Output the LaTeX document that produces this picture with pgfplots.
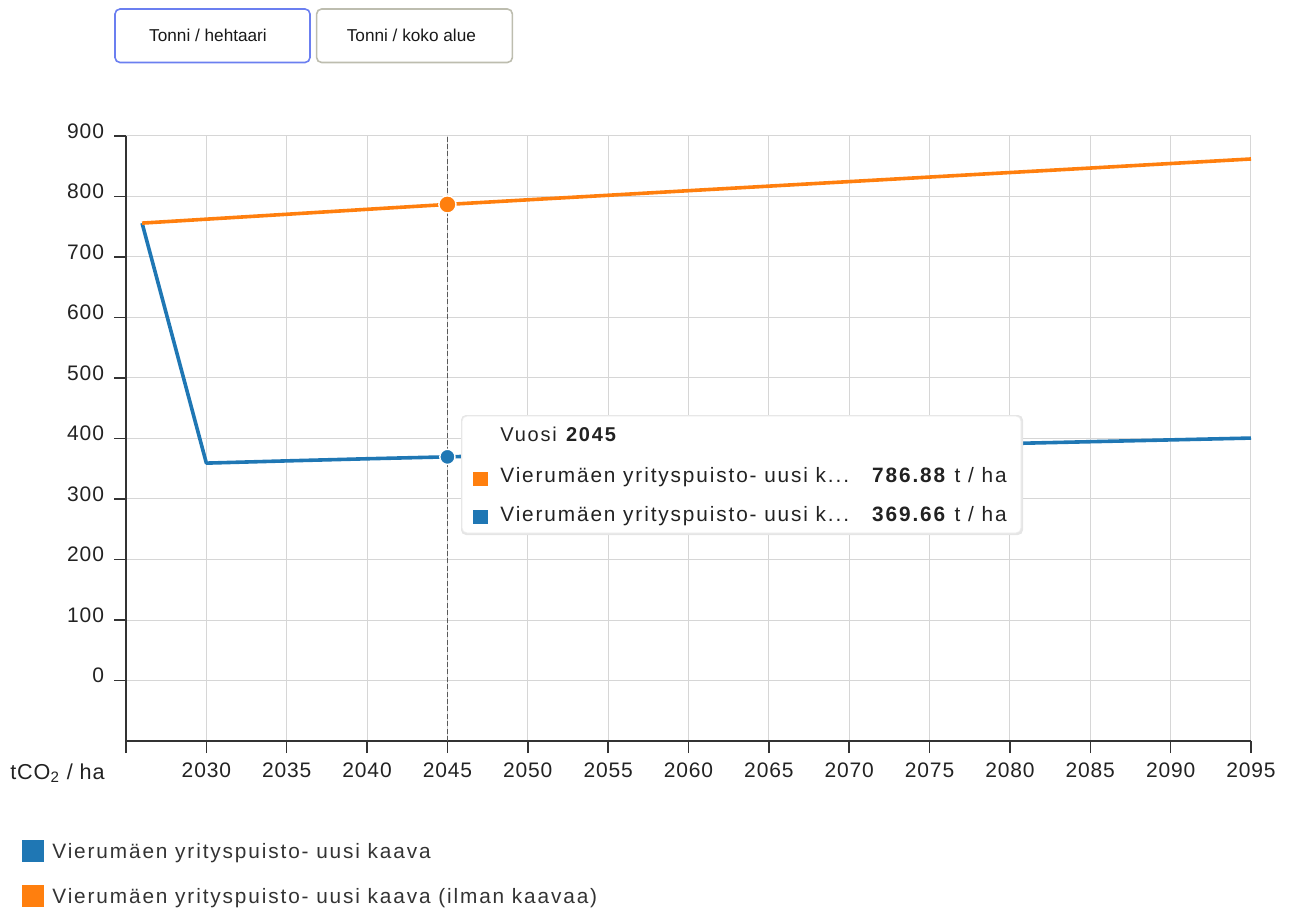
\documentclass[border=0pt]{standalone}
\usepackage{pgfplots}
\pgfplotsset{compat=1.18}
\usepackage{fontspec}
\setmainfont{Liberation Sans}
\newfontfamily\ticksfont[LetterSpace=4]{Liberation Sans}
\newfontfamily\spacedfont[LetterSpace=9]{Liberation Sans}
\definecolor{cblue}{HTML}{1F77B4}
\definecolor{corange}{HTML}{FF7F0E}
\definecolor{gridgray}{HTML}{D6D6D6}
\definecolor{axisdark}{HTML}{333333}
\definecolor{txt}{HTML}{222222}
\definecolor{btnblue}{HTML}{6B7FF0}
\definecolor{btngray}{HTML}{BDBDAF}
\begin{document}
\begin{tikzpicture}[x=1pt,y=1pt]
\path[use as bounding box] (0pt,0pt) rectangle (645pt,456pt);
% buttons
\draw[btnblue, line width=0.8pt, rounded corners=2.5pt, fill=white] (57.5pt,424.75pt) rectangle (155pt,451.5pt);
\node[font=\fontsize{8.6}{10}\selectfont, text=black!90] at (104pt,438.1pt) {Tonni / hehtaari};
\draw[btngray, line width=0.8pt, rounded corners=2.5pt, fill=white] (158.3pt,424.75pt) rectangle (256.2pt,451.5pt);
\node[font=\fontsize{8.6}{10}\selectfont, text=black!90] at (205.7pt,438.1pt) {Tonni / koko alue};
\begin{axis}[
  at={(63pt,85.5pt)}, anchor=south west,
  width=562.5pt, height=302.5pt, scale only axis,
  xmin=2025, xmax=2095, ymin=-100, ymax=900,
  axis x line*=bottom, axis y line*=left,
  axis line style={-, axisdark, line width=0.75pt},
  xtick={2025,2030,...,2095},
  xticklabels={,2030,2035,2040,2045,2050,2055,2060,2065,2070,2075,2080,2085,2090,2095},
  ytick={0,100,...,900},
  yticklabels={0,100,200,300,400,500,600,700,800,900},
  tick align=outside, major tick length=6pt,
  tick style={axisdark, line width=0.75pt},
  grid=major, grid style={gridgray, line width=0.5pt},
  /pgf/number format/assume math mode=true,
  xticklabel style={font=\ticksfont\fontsize{10.5}{12}\selectfont, text=txt, yshift=-1.5pt},
  yticklabel style={font=\ticksfont\fontsize{10.5}{12}\selectfont, text=txt, yshift=2.5pt, xshift=-1.5pt},
  clip=false,
]
\addplot[cblue, line width=1.8pt, line join=round] coordinates {
(2026,756) (2030,359.3) (2035,363) (2040,366.5) (2045,369.66) (2050,373) (2055,376.3)
(2060,379.5) (2065,382.6) (2070,385.7) (2075,388.7) (2080,391.7) (2085,394.7) (2090,397.7) (2095,400.7)};
\addplot[corange, line width=1.8pt, line join=round] coordinates {
(2026,756) (2030,762.5) (2035,770.6) (2040,778.8) (2045,786.88) (2050,794.5) (2055,802)
(2060,809.6) (2065,817.1) (2070,824.6) (2075,832.1) (2080,839.6) (2085,847) (2090,854.5) (2095,862)};
\addplot[black!65, line width=0.9pt, dash pattern=on 2.5pt off 1.2pt] coordinates {(2045,-100) (2045,900)};
\addplot[only marks, mark=*, mark size=4.3pt, mark options={fill=corange, draw=white, line width=0.7pt}] coordinates {(2045,786.88)};
\addplot[only marks, mark=*, mark size=3.8pt, mark options={fill=cblue, draw=white, line width=0.7pt}] coordinates {(2045,369.66)};
\end{axis}
% y unit label
\node[anchor=base west, font=\ticksfont\fontsize{10.8}{12}\selectfont, text=txt, inner sep=0pt] at (5pt,66.5pt) {tCO\textsubscript{2} / ha};
% tooltip
\fill[black!10, rounded corners=2.5pt] (230.5pt,188.5pt) rectangle (511.5pt,248.5pt);
\draw[black!8, fill=white, line width=0.4pt, rounded corners=2.5pt] (231pt,189.5pt) rectangle (510.5pt,248pt);
\node[anchor=base west, inner sep=0pt, font=\spacedfont\fontsize{10}{10}\selectfont, text=txt] at (250pt,235.5pt) {Vuosi \textbf{2045}};
\fill[corange] (236.7pt,213.2pt) rectangle (243.8pt,220.2pt);
\node[anchor=base west, inner sep=0pt, font=\spacedfont\fontsize{10.4}{11}\selectfont, text=txt] at (250pt,214.9pt) {Vierumäen yrityspuisto- uusi k...};
\node[anchor=base east, inner sep=0pt, font=\spacedfont\fontsize{10.4}{11}\selectfont, text=txt] at (503.5pt,214.9pt) {\textbf{786.88} t / ha};
\fill[cblue] (236.7pt,194pt) rectangle (243.8pt,201pt);
\node[anchor=base west, inner sep=0pt, font=\spacedfont\fontsize{10.4}{11}\selectfont, text=txt] at (250pt,195.5pt) {Vierumäen yrityspuisto- uusi k...};
\node[anchor=base east, inner sep=0pt, font=\spacedfont\fontsize{10.4}{11}\selectfont, text=txt] at (503.5pt,195.5pt) {\textbf{369.66} t / ha};
% legend
\fill[cblue] (11pt,25pt) rectangle (22pt,36pt);
\node[anchor=base west, inner sep=0pt, font=\spacedfont\fontsize{10.4}{11}\selectfont, text=axisdark] at (26pt,27pt) {Vierumäen yrityspuisto- uusi kaava};
\fill[corange] (11pt,2.5pt) rectangle (22pt,13.5pt);
\node[anchor=base west, inner sep=0pt, font=\spacedfont\fontsize{10.4}{11}\selectfont, text=axisdark] at (26pt,4.5pt) {Vierumäen yrityspuisto- uusi kaava (ilman kaavaa)};
\end{tikzpicture}
\end{document}
